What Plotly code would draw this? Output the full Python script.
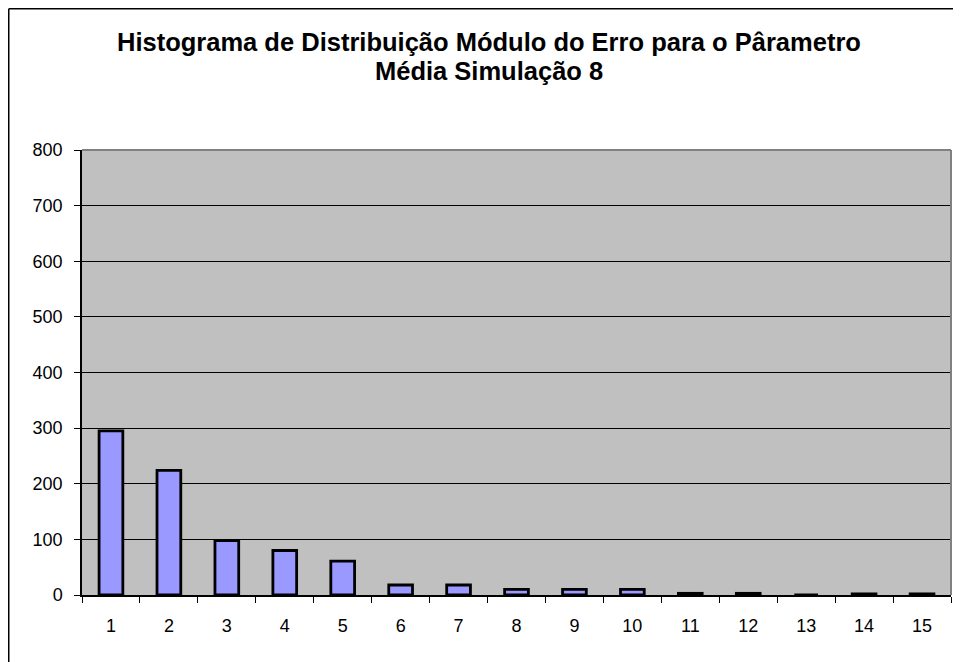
import plotly.graph_objects as go

# Dados (frequência por classe do módulo do erro)
classes = [str(i) for i in range(1, 16)]
frequencias = [295, 224, 98, 80, 61, 18, 18, 10, 10, 10, 3, 3, 0, 2, 2]
y_ticks = [0, 100, 200, 300, 400, 500, 600, 700, 800]
titulo = ["Histograma de Distribuição Módulo do Erro para o Pârametro",
          "Média Simulação 8"]

# a página tem margem de 8px no body, então desconto isso
OFF = 8
W, H = 961 - OFF, 662 - OFF
L, R, T, B = 82 - OFF, 10, 150 - OFF, 67
pw, ph = W - L - R, H - T - B


def py(y_pix):
    # pixel (a partir do topo da figura) -> coordenada paper
    return (H - y_pix - B) / ph


def px(x_pix):
    return (x_pix - L) / pw


fig = go.Figure()
fig.add_trace(go.Bar(
    x=classes,
    y=frequencias,
    marker=dict(color="#9999FF", line=dict(color="black", width=2.8)),
    width=0.41,
    showlegend=False,
))

fig.update_layout(
    width=W, height=H,
    margin=dict(l=L, r=R, t=T, b=B),
    paper_bgcolor="white",
    plot_bgcolor="#C0C0C0",
    font=dict(family="Liberation Sans, Arial", size=18, color="black"),
)

# título em duas linhas, com espaçamento mais apertado que o padrão
for linha, y_centro in zip(titulo, [34, 63]):
    fig.add_annotation(
        text=f"<b>{linha}</b>", xref="paper", yref="paper",
        x=px(489 - OFF), y=py(y_centro), xanchor="center", yanchor="middle",
        showarrow=False, font=dict(size=25.5, family="Liberation Sans, Arial"),
    )

fig.update_xaxes(
    type="category",
    tickson="boundaries",
    ticks="outside", ticklen=6, tickcolor="black", tickwidth=1,
    showline=True, linecolor="black", linewidth=1.5,
    showgrid=False, zeroline=False,
    tickfont=dict(size=18),
    ticklabelstandoff=14,
)
fig.update_yaxes(
    range=[0, 800],
    tickvals=y_ticks,
    ticks="outside", ticklen=6, tickcolor="black", tickwidth=1,
    showline=True, linecolor="black", linewidth=1.5,
    showgrid=True, gridcolor="black", gridwidth=1,
    zeroline=False,
    tickfont=dict(size=18),
    ticklabelstandoff=8,
)

# borda cinza em cima e à direita da área de plotagem
fig.add_shape(type="line", xref="paper", yref="paper", x0=0, x1=1, y0=1, y1=1,
              line=dict(color="#808080", width=2))
fig.add_shape(type="line", xref="paper", yref="paper", x0=1, x1=1, y0=0, y1=1,
              line=dict(color="#808080", width=2))

# borda externa do gráfico (só esquerda e topo aparecem)
fig.add_shape(type="line", xref="paper", yref="paper",
              x0=px(0.75), x1=px(W + 5), y0=py(0.75), y1=py(0.75),
              line=dict(color="black", width=1.5))
fig.add_shape(type="line", xref="paper", yref="paper",
              x0=px(0.75), x1=px(0.75), y0=py(0.75), y1=py(H + 5),
              line=dict(color="black", width=1.5))

fig.write_html("out.html")
